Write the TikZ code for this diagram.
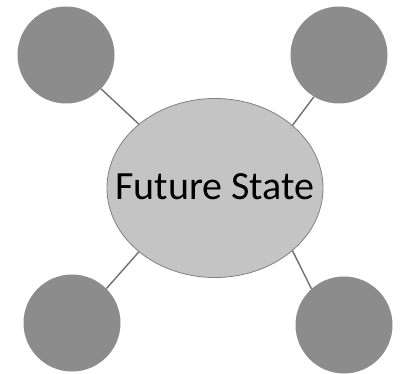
\documentclass[tikz,border=0pt]{standalone}
\usepackage{fontspec}
\setmainfont{Carlito}
\usetikzlibrary{shapes.geometric}
\begin{document}
\begin{tikzpicture}[x=1pt, y=-1pt]
    % Define colours
    \definecolor{hubColour}{HTML}{C4C4C4}
    \definecolor{hubBorder}{HTML}{808080}
    \definecolor{petalColour}{HTML}{8C8C8C}
    \definecolor{linkColour}{HTML}{707070}

    % Define styles
    \tikzset{
        hub/.style={ellipse, fill=hubColour, draw=hubBorder, line width=0.8pt,
            minimum width=216pt, minimum height=179pt, inner sep=0pt,
            label={[font=\fontsize{40}{40}\selectfont, yshift=1pt]center:#1}},
        petal/.style={circle, fill=petalColour, minimum size=97pt, inner sep=0pt},
        link/.style={draw=linkColour, line width=1.4pt}
    }

    % Fix the picture size
    \useasboundingbox (0,0) rectangle (404,374);

    % Draw central ellipse
    \node[hub=Future State] (future) at (215,188) {};

    % Draw outer circles
    \node[petal] (topLeft) at (66,55) {};
    \node[petal] (topRight) at (339,55) {};
    \node[petal] (bottomLeft) at (72,323) {};
    \node[petal] (bottomRight) at (344,325) {};

    % Draw links
    \draw[link] (topLeft.-44) -- (future.140.7);
    \draw[link] (topRight.-121) -- (future.39.3);
    \draw[link] (bottomLeft.45) -- (future.-140);
    \draw[link] (bottomRight.132.6) -- (future.-39.8);

\end{tikzpicture}
\end{document}
